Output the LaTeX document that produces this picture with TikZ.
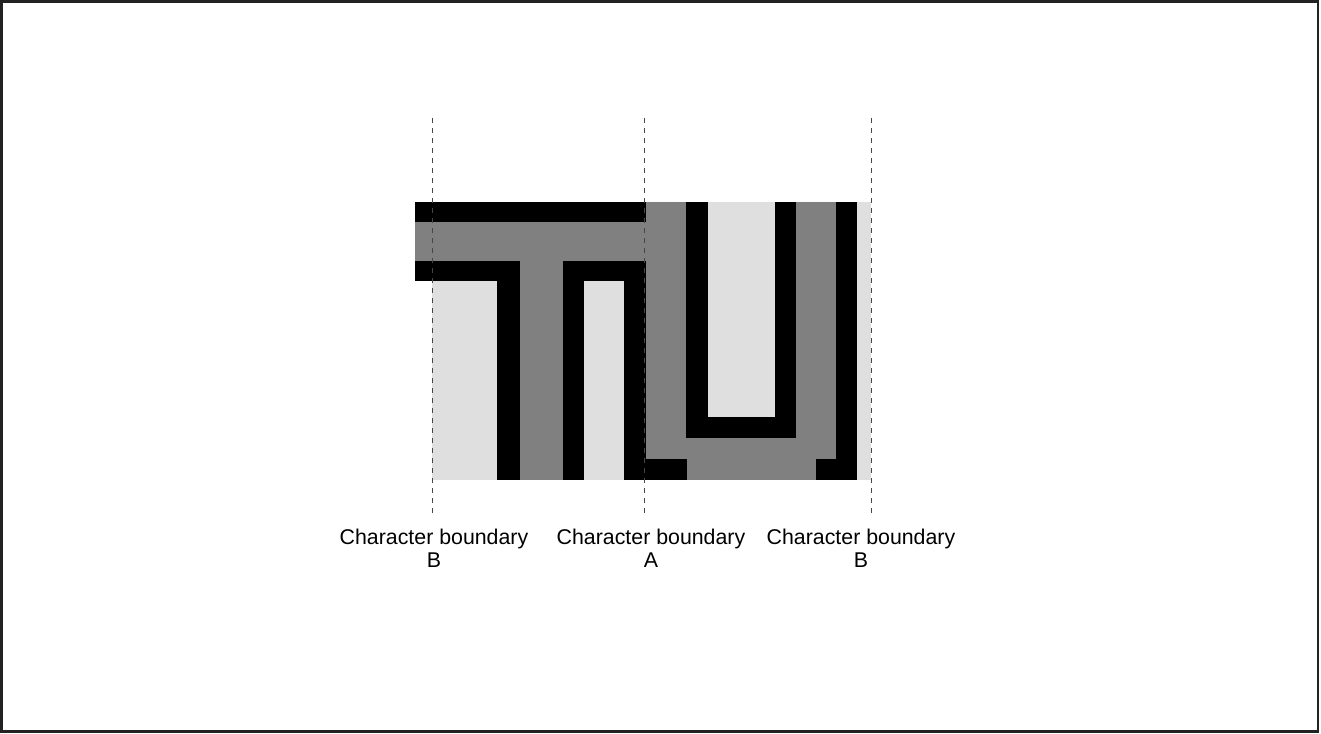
\documentclass[tikz,border=0pt]{standalone}
\usepackage{fontspec}
\setmainfont{Liberation Sans}
\usetikzlibrary{positioning}
\definecolor{glyphGray}{RGB}{128, 128, 128}
\definecolor{paperGray}{RGB}{223, 223, 223}
\definecolor{frameInk}{RGB}{34, 34, 34}
\definecolor{ruleInk}{RGB}{70, 70, 70}
\tikzset{
    boundary/.style={draw=ruleInk, line width=0.75pt, dash pattern=on 3.75pt off 3.75pt},
    caption/.style={font=\fontsize{16pt}{17.25pt}\selectfont, align=center, inner sep=0pt, anchor=north},
}

\begin{document}
\begin{tikzpicture}[x=0.75pt, y=-0.75pt]
    \useasboundingbox (0,0) rectangle (1321,733);
    \draw[frameInk, line width=1.9pt] (1.5,1.5) rectangle (1318,731.5);

    % glyph T
    \fill[glyphGray] (415,222) rectangle (646,261);
    \fill[glyphGray] (520,261) rectangle (563,480);
    \fill[black] (415,202) rectangle (646,222);
    \fill[black] (415,261) rectangle (520,281);
    \fill[black] (497,281) rectangle (520,480);
    \fill[black] (563,261) rectangle (646,281);
    \fill[black] (563,281) rectangle (584,480);
    \fill[black] (624,281) rectangle (646,480);
    \fill[paperGray] (432,281) rectangle (497,480);
    \fill[paperGray] (584,281) rectangle (624,480);

    % glyph U
    \fill[glyphGray] (646,202) rectangle (836,459);
    \fill[glyphGray] (687,459) rectangle (816,480);
    \fill[black] (624,459) rectangle (687,480);
    \fill[black] (686,202) rectangle (796,438);
    \fill[paperGray] (708,202) rectangle (775,417);
    \fill[black] (836,202) rectangle (857,480);
    \fill[black] (816,459) rectangle (857,480);
    \fill[paperGray] (857,202) rectangle (871,480);

    % character boundaries
    \coordinate (leftTop) at (432,118);
    \coordinate (leftBot) at (432,516);
    \coordinate (midTop) at (644,118);
    \coordinate (midBot) at (644,516);
    \coordinate (rightTop) at (871,118);
    \coordinate (rightBot) at (871,516);
    \draw[boundary] (leftTop) -- (leftBot);
    \draw[boundary] (midTop) -- (midBot);
    \draw[boundary] (rightTop) -- (rightBot);

    \node[caption] (leftLabel) at (434,529) {Character boundary\\B};
    \node[caption] (midLabel) at (651,529) {Character boundary\\A};
    \node[caption] (rightLabel) at (861,529) {Character boundary\\B};
\end{tikzpicture}
\end{document}
